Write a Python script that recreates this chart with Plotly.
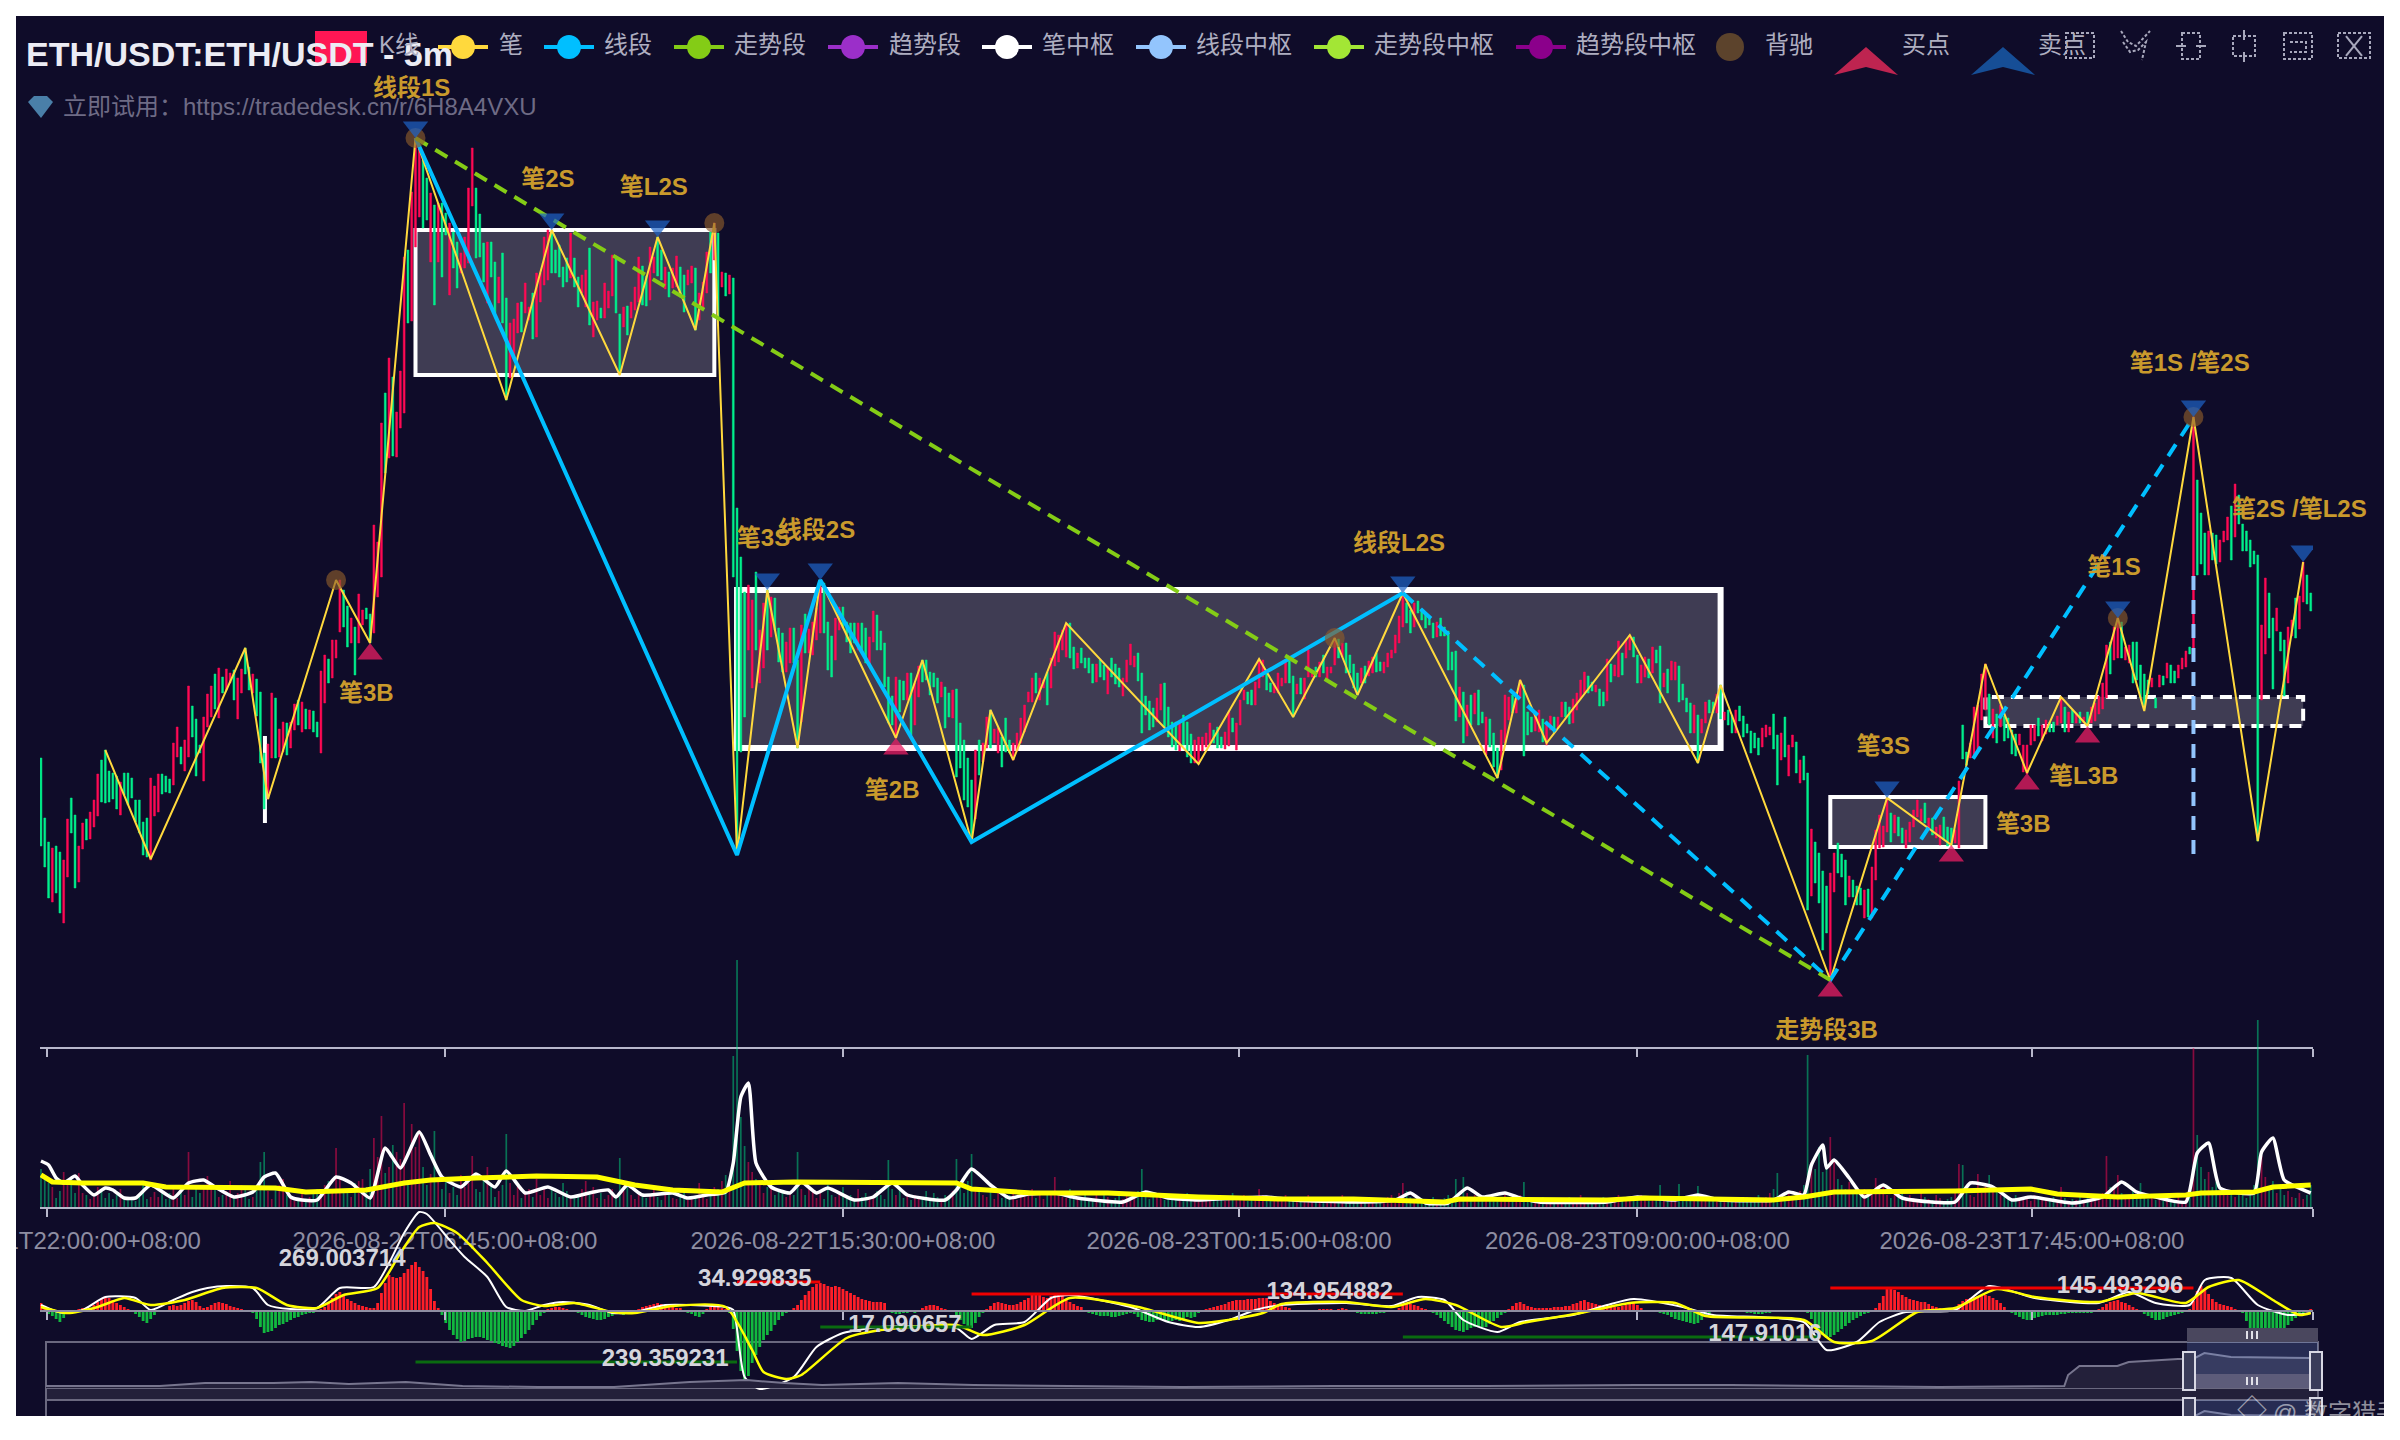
"""ETH/USDT 5m Chan-theory chart: candles, strokes, centers, volume and MACD panes."""
import plotly.graph_objects as go

# price and volume have no visible scale in the source, so values are relative units
open_close = [
    242,154, 182,133, 158,102, 98,152, 154,107, 148,87, 77,140, 123,181, 202,167, 185,112,
    118,154, 151,177, 181,160, 161,188, 173,200, 184,226, 240,198, 250,197, 229,198, 227,201,
    224,191, 185,218, 227,205, 227,195, 222,202, 200,178, 200,167, 178,145, 182,143, 140,222,
    184,214, 188,226, 226,206, 224,208, 221,207, 215,257, 243,273, 253,236, 229,260, 243,314,
    294,263, 281,224, 255,247, 219,283, 273,306, 283,314, 326,291, 282,332, 323,307, 310,331,
    317,327, 330,300, 281,322, 307,331, 352,326, 333,310, 307,326, 321,284, 308,237, 247,191,
    201,256, 242,307, 302,242, 243,271, 248,278, 277,245, 252,278, 270,296, 300,275, 268,298,
    291,271, 271,290, 289,268, 278,263, 247,329, 297,345, 341,317, 322,360, 342,360, 368,420,
    410,373, 394,353, 357,382, 373,325, 357,406, 375,390, 392,381, 386,357, 367,475, 403,458,
    423,577, 607,527, 542,642, 623,544, 543,588, 572,629, 587,743, 750,677, 679,808, 753,860,
    783,853, 840,772, 822,780, 738,807, 795,695, 738,797, 797,723, 787,765, 705,777, 768,732,
    758,712, 727,747, 732,763, 737,812, 794,852, 812,742, 786,743, 757,718, 697,758, 758,723,
    738,687, 697,723, 747,677, 702,600, 622,677, 643,681, 667,697, 698,668, 687,717, 680,693,
    707,661, 663,727, 698,727, 715,763, 720,770, 768,727, 750,727, 755,723, 733,713, 742,718,
    722,767, 742,713, 723,693, 707,725, 693,730, 752,675, 663,698, 680,699, 692,682, 682,717,
    692,709, 704,745, 741,687, 686,627, 673,693, 694,665, 682,698, 690,713, 698,743, 734,695,
    724,694, 700,753, 727,743, 763,724, 750,720, 711,733, 728,703, 712,732, 713,744, 733,703,
    725,688, 715,730, 717,734, 732,670, 680,707, 692,718, 707,748, 768,727, 740,777, 767,680,
    713,728, 727,704, 706,725, 722,423, 492,145, 443,248, 408,283, 350,415, 312,400, 428,350,
    317,370, 332,397, 410,350, 363,403, 402,370, 372,338, 367,328, 328,358, 337,372, 372,337,
    340,252, 278,375, 386,347, 347,371, 345,378, 360,392, 367,420, 417,367, 378,330, 364,323,
    340,382, 370,393, 393,372, 378,358, 377,347, 377,357, 350,377, 377,347, 372,337, 335,363,
    358,389, 385,350, 369,350, 357,313, 323,277, 304,275, 262,323, 320,288, 319,300, 300,327,
    327,265, 275,317, 303,334, 340,318, 340,320, 328,305, 327,313, 322,297, 303,318, 313,272,
    307,283, 282,310, 311,223, 277,232, 260,200, 242,193, 220,162, 181,250, 260,225, 238,257,
    252,283, 290,252, 257,271, 247,272, 263,233, 282,248, 260,247, 240,257, 249,267, 257,282,
    268,295, 298,308, 298,322, 327,307, 300,322, 312,320, 328,295, 312,342, 334,368, 338,365,
    350,370, 343,377, 377,342, 353,331, 332,347, 352,337, 342,332, 342,327, 336,317, 318,336,
    340,323, 335,320, 306,333, 342,323, 336,316, 332,313, 304,322, 318,340, 335,356, 333,344,
    347,319, 327,267,
    304,285, 299,270, 292,273, 278,302, 290,316, 317,273, 293,263, 278,253, 278,250, 249,277,
    285,255, 278,243, 266,237, 237,260, 236,263, 249,263, 253,267, 257,277, 270,257, 273,252,
    263,252, 251,268, 254,288, 282,268, 250,277, 275,300, 300,310, 308,296, 310,295, 295,318,
    312,341, 323,340, 330,310, 317,308, 307,317, 307,327, 314,322, 317,339, 339,317, 324,283,
    306,316, 322,306, 301,322, 323,350, 323,330, 333,323, 323,338, 345,327, 321,333, 327,333,
    335,362, 361,342, 343,357, 357,327, 345,327, 336,312, 327,305, 317,332, 334,317, 324,339,
    327,343, 347,328, 338,329, 327,338, 333,347, 342,350, 347,365, 357,384, 373,407, 397,377,
    390,367, 373,397, 399,387, 391,380, 385,372, 383,375, 377,362, 363,378, 382,364, 373,364,
    369,330, 348,330, 349,279, 283,313, 308,257, 264,295, 305,275, 286,307, 310,275, 288,277,
    245,283, 281,253, 267,233, 252,222, 230,270, 257,305, 280,303, 305,287, 287,308, 302,320,
    315,244, 288,265, 283,268, 269,285, 268,290, 281,258, 255,278, 270,284,
    283,267, 272,283, 283,298, 298,283, 293,276, 277,301, 290,307, 301,320, 307,328, 324,307,
    318,309, 308,315, 311,294, 308,294, 299,341, 336,318, 324,335, 323,359, 347,325, 342,360,
    350,365, 363,343, 345,317, 317,335, 323,343, 341,322, 327,353, 350,337, 354,297, 313,327,
    331,307, 320,339, 320,338, 334,298, 316,300, 302,288, 297,267, 267,295, 285,237, 267,281,
    277,298, 300,287, 298,287, 287,306, 315,281, 280,288, 290,275, 285,267, 267,290, 294,279,
    284,263, 276,267, 269,247, 267,252, 262,245, 253,272, 263,275, 265,273, 286,251, 265,215,
    240,267, 283,243, 224,255, 253,265, 258,227, 217,240, 244,220, 227,90, 104,171, 158,117,
    147,97, 129,50, 114,67, 20,127, 108,147, 157,127, 146,123, 140,95, 103,124, 120,103,
    114,95, 112,95, 82,110, 111,83, 82,133, 120,170, 152,185, 153,174, 168,202, 187,158,
    167,185, 183,164, 172,157, 152,170, 158,178, 173,190, 183,200, 179,191, 197,177, 172,182,
    182,165, 162,173, 155,175, 183,160, 173,154,
    172,155, 157,170, 152,219, 275,241, 248,235, 242,257, 242,293, 248,295, 280,326,
    290,336, 306,275, 262,291, 286,257, 273,295, 284,259, 282,262, 270,246, 266,244, 255,266,
    228,255, 226,255, 255,275, 259,275, 282,264, 259,275, 266,280, 278,268, 278,268, 275,284,
    277,303, 293,268, 268,288, 290,277, 277,287, 288,277, 277,283, 288,275, 277,293, 279,297,
    286,304, 291,317, 302,355, 358,326, 340,373, 342,382, 378,342, 340,353, 337,355, 358,317,
    358,320, 335,302, 326,293, 320,306, 313,322, 302,292, 313,325, 324,315, 322,337, 335,317,
    329,317, 322,335, 331,342, 333,349, 353,346, 351,583, 520,425, 487,436, 467,425, 425,469,
    467,440, 465,436, 438,460, 458,469, 460,483, 494,440, 463,516, 505,476, 476,449, 469,449,
    460,433, 449,436, 445,159, 300,375, 346,422, 407,362, 382,311, 369,392, 368,349, 360,304,
    317,373, 364,380, 402,362, 371,404, 398,438, 425,396, 407,389,
]
opens = open_close[::2]
closes = open_close[1::2]
bar_index = list(range(len(opens)))

tick_index = [1.6, 106.8, 212, 316.7, 422, 526.3, 600.6]
# the first label runs off the left edge of the chart, so it is placed as a note further down
first_tick_text = "2026-08-21T22:00:00+08:00"
tick_text = ["", "2026-08-22T06:45:00+08:00", "2026-08-22T15:30:00+08:00",
             "2026-08-23T00:15:00+08:00", "2026-08-23T09:00:00+08:00", "2026-08-23T17:45:00+08:00", ""]

bi_x = [17, 29, 54, 60, 78, 87, 99, 123, 135, 153, 163, 173, 178, 184, 192, 200, 206, 226, 233, 246, 251, 257,
        271, 306, 322, 331, 342, 348, 360, 385, 391, 398, 420, 438, 444, 473, 488, 505, 514, 525, 534, 541,
        549, 556, 569, 586, 598]
bi_y = [250, 141, 352, 201, 420, 357, 862, 600, 770, 625, 763, 670, 777, 145, 410, 252, 420, 262, 340, 158, 290, 240,
        377, 236, 341, 283, 362, 305, 407, 222, 320, 257, 365, 237, 315, 20, 202, 155, 336, 227, 303, 274,
        382, 289, 583, 159, 438]
seg_x = [99, 184, 206, 246, 360]
seg_y = [862, 145, 420, 158, 407]
seg_pending_x = [360, 473, 569]
seg_pending_y = [407, 20, 583]
trend_x = [99, 473]
trend_y = [862, 20]

# x0, x1, low, high
bi_centers = [(99, 178, 625, 770), (184, 444, 252, 410), (473, 514, 153, 203), (514, 598, 274, 303)]
thin_center = (59.2, 177, 264)
seg_center = (569, 146, 425)

buy_x = [87, 226, 473, 505, 525, 541]
buy_y = [357, 262, 20, 155, 227, 274]
sell_x = [99, 135, 163, 192, 206, 360, 488, 549, 569, 598]
sell_y = [862, 770, 763, 410, 420, 407, 202, 382, 583, 438]
div_x = [78, 99, 178, 342, 549, 569]
div_y = [420, 862, 777, 362, 382, 583]

label_text = ["线段1S", "笔2S", "笔L2S", "笔3B", "笔3S", "线段2S", "笔2B", "线段L2S", "走势段3B", "笔3S", "笔L3B", "笔3B",
              "笔1S", "笔1S /笔2S", "笔2S /笔L2S"]
label_x = [98, 134, 162, 86, 191, 205, 225, 359, 472, 487, 540, 524, 548, 568, 597]
label_y = [910, 819, 811, 305, 460, 468, 208, 455, -32, 252, 222, 174, 431, 635, 489]

volume = [
    38,28,24,20,9,16,35,25,30,14,34,14,12,8,10,20,16,9,14,8,
    12,18,9,7,10,6,12,22,8,10,15,10,18,8,14,20,9,16,12,55,
    10,20,14,22,31,24,17,10,12,16,26,9,14,22,20,8,10,18,45,55,
    16,8,20,22,28,12,10,6,9,14,7,10,16,18,12,22,26,14,59,30,
    15,18,10,24,26,28,20,38,69,50,91,34,40,62,55,48,104,26,83,60,
    77,40,22,33,76,25,18,26,14,20,12,32,20,24,51,18,15,26,40,24,
    10,16,22,73,24,12,20,9,14,18,10,28,12,18,9,20,14,10,24,16,
    8,12,10,18,26,12,20,9,14,8,12,18,9,49,16,22,12,8,14,10,
    9,12,18,10,7,14,20,9,8,12,16,7,10,9,24,12,8,14,20,18,
    26,32,22,151,247,90,61,45,35,28,22,14,20,25,12,18,16,10,14,12,
    55,18,12,20,16,9,14,8,22,12,10,16,20,9,12,7,18,10,14,8,
    10,16,12,8,47,18,12,20,9,14,7,12,10,8,16,9,14,10,8,12,
    9,16,48,20,14,26,53,18,20,12,10,16,8,14,9,10,12,16,7,14,
    10,12,18,9,14,8,12,16,30,14,10,9,18,12,8,10,14,9,7,12,
    8,12,10,7,9,14,8,12,6,10,16,38,12,8,14,10,9,7,12,8,
    10,6,9,14,7,8,12,6,10,7,9,12,8,6,10,14,7,9,12,6,
    8,10,18,12,9,6,8,10,7,12,6,8,9,7,10,12,6,8,7,9,
    6,10,8,7,12,6,9,7,8,6,10,7,9,6,8,7,10,12,8,14,
    24,16,10,8,7,9,6,8,10,6,7,9,12,8,28,10,30,14,8,12,
    10,7,12,9,8,6,10,14,8,9,7,12,25,8,6,9,7,10,6,8,
    7,9,6,8,10,6,7,12,8,6,9,7,8,10,6,9,7,12,8,6,
    10,7,9,12,8,6,10,7,22,9,8,6,10,23,8,9,7,12,21,8,
    7,10,6,9,8,7,6,9,8,7,6,10,8,9,12,7,10,14,18,34,
    12,9,14,10,12,16,22,152,45,38,60,35,40,70,48,28,22,18,25,16,
    14,12,18,10,16,29,14,20,12,9,14,10,18,8,12,9,7,14,10,8,
    7,12,9,6,8,10,18,43,42,16,12,10,33,14,22,32,20,16,12,10,
    9,8,12,7,10,8,6,12,9,7,8,6,10,7,20,9,6,8,7,10,
    6,9,12,7,8,14,51,20,18,32,14,12,10,16,9,24,12,8,10,7,
    9,6,12,8,7,10,6,9,14,159,72,40,28,35,20,25,16,18,12,14,
    10,16,12,9,14,22,187,51,30,18,26,14,23,12,16,10,9,14,8,12,
    22,
]
vol_fast_x = [0, 2, 4, 6, 9, 11, 14, 17, 19, 22, 25, 29, 35, 39, 43, 46, 51, 56, 59, 62, 66, 69, 73, 78, 82, 87, 91, 95,
              100, 103, 106, 111, 115, 120, 123, 128, 134, 140, 146, 150, 152, 155, 159, 167, 171, 176, 181, 183, 185,
              187, 189, 193, 198, 201, 205, 208, 215, 220, 225, 229, 239, 242, 246, 251, 256, 261, 268, 274, 286, 292,
              298, 306, 317, 324, 331, 347, 358, 362, 366, 372, 377, 381, 387, 391, 396, 414, 422, 432, 438, 444, 458,
              462, 466, 468, 471, 472, 474, 478, 482, 487, 492, 506, 510, 516, 521, 526, 537, 545, 550, 554, 559, 567,
              570, 573, 576, 585, 587, 590, 593, 600]
vol_fast_y = [46, 42, 29, 24, 31, 22, 12, 19, 17, 9, 9, 22, 9, 24, 27, 20, 10, 15, 30, 34, 10, 7, 7, 30, 24, 9, 59, 39,
              75, 52, 30, 20, 33, 20, 36, 14, 20, 10, 15, 17, 10, 22, 12, 14, 9, 12, 15, 44, 110,
              124, 44, 20, 14, 25, 14, 19, 7, 10, 24, 12, 7, 17, 38, 22, 9, 13, 14, 9, 5, 15,
              9, 7, 9, 10, 7, 5, 7, 14, 4, 4, 19, 10, 14, 9, 5, 5, 10, 7, 12, 7, 7,
              15, 12, 42, 62, 39, 47, 29, 10, 22, 9, 5, 24, 20, 7, 10, 4, 10, 25, 15, 10, 5,
              54, 64, 19, 14, 55, 69, 27, 14]
vol_slow_x = [0, 3, 11, 27, 33, 50, 62, 70, 86, 96, 103, 115, 131, 147, 157, 167, 180, 186, 199, 242, 246, 262, 282,
              306, 327, 347, 359, 371, 375, 395, 414, 424, 458, 466, 474, 506, 526, 533, 549, 567, 571, 585, 590, 600]
vol_slow_y = [32, 25, 24, 24, 20, 20, 19, 15, 17, 24, 27, 29, 31, 30, 22, 17, 15, 24, 25, 24, 18, 14, 14,
              10, 8, 8, 7, 5, 8, 8, 7, 9, 7, 10, 15, 16, 18, 13, 10, 12, 14, 15, 20, 22]

macd_hist = [
    8,5,-3,-5,-8,-11,-7,-3,-1,1, 2,3,2,3,6,9,12,14,13,11, 8,6,4,2, -1,-3,-6,-10,-12,-8, -4,-1,1,1,
    5,6,5,6,8,10,11,9,5,3,4,6,8,9,8,7,5,4,3,2,1,1,
    -2,-8,-16,-22,-21,-20,-17,-14,-13,-11,-9,-7,-6,-4,-3,-2,-2,
    1,2,4,8,13,17,19,16,12,10,8,6,5,4,3,3,
    8,18,28,36,34,33,34,38,42,46,49,44,40,34,22,10,3,
    -4,-12,-19,-24,-28,-31,-30,-28,-27,-26,-26,-27,-29,-30,-32,-33,-35,-36,-37,-35,-31,-27,-23,-19,-14,-9,-5,-2,
    2,3,4,4,3,2,1,
    -1,-2,-4,-6,-7,-8,-9,-9,-8,-6,-5,-3,-3,-4,-3,-1,
    1,2,4,5,6,7,8,7,6,5,4,3,3,
    -1,-2,-3,-5,-6,-3, 2,4,6,5,3,2,
    -2,-18,-40,-60,-71,-65,-52,-44,-36,-29,-24,-20,-14,-9,-5,-2,
    1,3,6,11,16,20,24,27,28,27,25,24,25,24,22,20,18,16,14,12,11,10,9,9,9,8,
    -1,-2,-3,-3,-2,-2,-1,-2, 1,3,5,6,6,5,3,2,1,
    -1,-5,-9,-13,-15,-17,-12,-6,-2,
    2,5,8,9,8,7,6,6,7,9,11,13,16,17,17,14,13,15,16,17,15,12,9,7,5,4,
    -1,-2,-3,-4,-5,-5,-5,-6,-6,-5,-4,-3,-2,-3,-6,-9,-10,-11,-11,-9,-8,-9,-10,-10,-9,-10,-8,-6,-7,-6,
    -2,1,2,3,4,5,6,7,9,10,11,11,11,12,12,12,13,13,13,10,8,6,5,4,3,1,
    0,0,0,0,0, 1,2,2,2,2,1,2,3,2,1,
    -1,-2,-3,-3,-3,-3,-3,-2,-2,-1,-1,-1,
    3,6,8,7,6,5,3,2,1,
    -2,-4,-7,-10,-13,-16,-19,-20,-21,-19,-17,-16,-15,-16,-16,-13,-10,-7,-4,-2,
    2,5,8,9,7,5,4,3,3,3,3,3,4,4,4,5,5,7,8,10,11,9,8,7,6,5,5,5,4,4,5,6,7,8,6,3,1,
    0,0, -1,-2,-3,-4,-6,-8,-9,-10,-11,-12,-13,-12,-9,-6,-3,-1,
    1,-1,1,-1,1,0, -1,-1,-2,-2,-3,-3,-3,-2,-2,-1,-1,-1, 0,0,1,1,0,0,
    -2,-8,-14,-20,-24,-27,-26,-24,-21,-18,-15,-12,-9,-7,-5,-3,-2,-1,
    3,8,15,23,23,21,19,16,14,12,11,10,9,9,7,5,4,3,2,1,1,
    3,7,10,12,13,14,15,16,16,15,13,11,8,4,1,
    -2,-4,-6,-8,-9,-9,-7,-6,-5,-4,-4,-4,-4,-3,-3,-2,-2,-2,-2,-2,-2,-2,
    1,2,4,7,9,10,11,9,8,6,4,2,
    -1,-3,-5,-7,-9,-9,-8,-6,-5,-4,-3,-2,-1,
    2,10,20,25,22,17,12,9,7,6,5,4,2,1,
    -2,-10,-18,-24,-27,-29,-26,-25,-24,-23,-22,-18,-14,-10,-7,-4,-2,
    1,2,
]
dif_x = [0, 3, 6, 11, 17, 25, 29, 35, 40, 44, 49, 56, 60, 66, 73, 79, 88, 92, 96, 100, 102, 108, 112, 118, 123, 128,
         133, 138, 145, 151, 157, 165, 181, 183, 186, 190, 199, 205, 212, 222, 242, 246, 252, 260, 267, 272, 288, 298,
         306, 314, 321, 328, 345, 357, 364, 371, 376, 385, 391, 405, 414, 421, 434, 442, 466, 472, 480, 486, 493, 506,
         515, 527, 544, 552, 559, 568, 572, 579, 586, 594, 600]
dif_y = [6, 1, -2, 1, 14, 13, 1, 11, 19, 23, 25, 23, 6, 2, 3, 23, 24, 48, 78, 99, 97, 71, 54, 34, 4, 0,
         6, 9, 6, -2, -1, 6, 4, 1, -66, -78, -66, -36, -22, -16, -17, -28, -14, -11, 13, 16, 4, -11,
         -16, -9, 1, 6, 8, 5, 14, 11, -9, -21, -11, -4, 6, 12, 4, -4, -11, -39, -31, -11, -1, 1,
         25, 13, 8, 19, 8, 6, 31, 33, 6, -4, -2]
dea_x = [0, 7, 15, 22, 29, 38, 48, 57, 65, 73, 80, 89, 95, 100, 104, 110, 118, 127, 133, 141, 151, 157, 167, 181, 188,
         191, 197, 201, 213, 222, 242, 249, 260, 272, 290, 306, 314, 323, 328, 345, 357, 366, 374, 386, 393, 407, 420,
         432, 440, 466, 474, 484, 496, 506, 517, 527, 544, 554, 567, 573, 581, 590, 597, 600]
dea_y = [4, -2, 4, 13, 6, 11, 23, 23, 6, 3, 16, 23, 58, 84, 88, 78, 48, 11, 5, 8, -1, -2, 5, 4, -39,
         -61, -68, -64, -27, -19, -14, -24, -14, 13, 4, -12, -9, -2, 7, 9, 4, 12, 6, -16, -11, -2, 8,
         8, -5, -9, -31, -30, -1, 3, 22, 14, 9, 18, 8, 24, 31, 11, -4, -2]
area_x0 = [99, 184, 206, 246, 360, 473]
area_x1 = [184, 206, 246, 360, 470, 569]
area_level = [-51, 29, -16, 17, -26, 23]
area_text = ["269.003714", "34.929835", "17.090657", "239.359231", "134.954882", "147.91016", "145.493296"]
area_text_x = [79.6, 188.7, 228.4, 165, 340.7, 455.7, 549.6]
area_text_y = [51, 31, -15, -49, 18, -24, 24]

overview_x = [0, 30, 42, 60, 70, 80, 95, 110, 130, 150, 170, 185, 195, 205, 225, 245, 270, 300, 340, 380, 420, 445, 470,
              500, 533, 534, 537, 547, 550, 563, 567, 570, 577, 598, 600]
overview_y = [2, 2, 5, 5, 6, 4, 6, 2, 1, 1, 6, 8, 5, 3, 5, 3, 2, 1, 2, 2, 3, 3, 2,
              1, 2, 13, 22, 22, 26, 29, 29, 35, 31, 30, 28]

legend_lines = [("笔", 463, 497, "#FFD93D"), ("线段", 569, 602, "#00BFFF"), ("走势段", 699, 732, "#84CC16"),
                ("趋势段", 853, 887, "#9B2FC9"), ("笔中枢", 1007, 1040, "#FFFFFF"), ("线段中枢", 1161, 1194, "#93C5FD"),
                ("走势段中枢", 1339, 1372, "#A3E635"), ("趋势段中枢", 1541, 1574, "#8B008B")]

BG = "#0F0C29"
UP = "#FF0A54"
DOWN = "#00F08C"
FONT = "Liberation Sans, Noto Sans CJK SC, sans-serif"
GOLD = "#C99A2C"
AXIS = "#B8B8CC"
W, H = 2368, 1400


def fx(x):
    return (x - 16) / W


def fy(y):
    return 1 - (y - 16) / H


def paper_rect(x0, y0, x1, y1, kind="rect", **kw):
    return dict(type=kind, xref="paper", yref="paper", x0=fx(x0), x1=fx(x1), y0=fy(y0), y1=fy(y1), **kw)


def paper_path(points, **kw):
    d = "M" + " L".join(f"{fx(x):.5f},{fy(y):.5f}" for x, y in points)
    return dict(type="path", xref="paper", yref="paper", path=d, **kw)


def note(text, x, y, size=24, color="#AEAEC0", bold=False, anchor="left"):
    return dict(text=text, xref="paper", yref="paper", x=fx(x), y=fy(y), showarrow=False, xanchor=anchor,
                yanchor="middle", font=dict(family=FONT, size=size, color=color,
                                            weight="bold" if bold else "normal"))


fig = go.Figure()
fig.add_trace(go.Candlestick(
    x=bar_index, open=opens, close=closes,
    high=[max(o, c) for o, c in zip(opens, closes)], low=[min(o, c) for o, c in zip(opens, closes)],
    increasing=dict(line=dict(color=UP, width=0.5), fillcolor=UP),
    decreasing=dict(line=dict(color=DOWN, width=0.5), fillcolor=DOWN),
    whiskerwidth=0, showlegend=False,
))
fig.add_trace(go.Scatter(x=bi_x, y=bi_y, mode="lines", line=dict(color="#FFD93D", width=2)))
fig.add_trace(go.Scatter(x=seg_x, y=seg_y, mode="lines", line=dict(color="#00BFFF", width=4)))
fig.add_trace(go.Scatter(x=seg_pending_x, y=seg_pending_y, mode="lines",
                         line=dict(color="#00BFFF", width=4, dash="14px,10px")))
fig.add_trace(go.Scatter(x=trend_x, y=trend_y, mode="lines", line=dict(color="#84CC16", width=4, dash="14px,9px")))
fig.add_trace(go.Scatter(x=div_x, y=div_y, mode="markers",
                         marker=dict(color="rgba(139,90,43,0.65)", size=20, line=dict(width=0))))
# standoff keeps the triangle's tip on the turning point
fig.add_trace(go.Scatter(x=buy_x, y=buy_y, mode="markers",
                         marker=dict(symbol="triangle-up", color="rgba(233,30,99,0.75)", size=22, standoff=11,
                                     line=dict(width=0))))
fig.add_trace(go.Scatter(x=sell_x, y=sell_y, mode="markers",
                         marker=dict(symbol="triangle-up", angle=180, color="rgba(30,100,200,0.7)", size=22, standoff=11,
                                     line=dict(width=0))))
fig.add_trace(go.Scatter(x=label_x, y=label_y, text=label_text, mode="text", textposition="middle center",
                         cliponaxis=False, textfont=dict(family=FONT, size=24, color=GOLD, weight="bold")))

# volume pane
vol_colors = ["rgba(255,10,84,0.5)" if c >= o else "rgba(0,240,140,0.45)" for o, c in zip(opens, closes)]
fig.add_trace(go.Bar(x=bar_index, y=volume, marker=dict(color=vol_colors, line=dict(width=0)), width=0.45,
                     xaxis="x2", yaxis="y2"))
fig.add_trace(go.Scatter(x=vol_fast_x, y=vol_fast_y, mode="lines",
                         line=dict(color="#FFFFFF", width=3.5, shape="spline", smoothing=0.5), xaxis="x2", yaxis="y2"))
fig.add_trace(go.Scatter(x=vol_slow_x, y=vol_slow_y, mode="lines", line=dict(color="#FFFF00", width=5),
                         xaxis="x2", yaxis="y2"))

# MACD pane
hist_colors = ["#FF1E28" if v >= 0 else "#12B83F" for v in macd_hist]
fig.add_trace(go.Bar(x=list(range(len(macd_hist))), y=macd_hist, marker=dict(color=hist_colors, line=dict(width=0)),
                     width=0.75, xaxis="x3", yaxis="y3"))
fig.add_trace(go.Scatter(x=dif_x, y=dif_y, mode="lines", line=dict(color="#FFFFFF", width=2, shape="spline", smoothing=0.6),
                         xaxis="x3", yaxis="y3"))
fig.add_trace(go.Scatter(x=dea_x, y=dea_y, mode="lines", line=dict(color="#FFFF00", width=2.5, shape="spline", smoothing=0.6),
                         xaxis="x3", yaxis="y3"))
for x0, x1, level in zip(area_x0, area_x1, area_level):
    fig.add_trace(go.Scatter(x=[x0, x1], y=[level, level], mode="lines",
                             line=dict(color="#F00000" if level > 0 else "#0A6B10", width=3), xaxis="x3", yaxis="y3"))
fig.add_trace(go.Scatter(x=area_text_x, y=area_text_y, text=area_text, mode="text", textposition="middle center",
                         textfont=dict(family=FONT, size=24, color="#D5D5DC", weight="bold"),
                         xaxis="x3", yaxis="y3"))

# overview strips of the range slider
for yaxis in ("y4", "y5"):
    fig.add_trace(go.Scatter(x=overview_x, y=overview_y, mode="lines", fill="tozeroy", fillcolor="#23203A",
                             line=dict(color="#77758E", width=2), xaxis="x4", yaxis=yaxis))

shapes = [paper_rect(16, 16, 2384, 1416, fillcolor=BG, line=dict(width=0), layer="below")]

for (x0, x1, low, high), width, dash in zip(bi_centers, (4, 6, 4, 4), ("solid", "solid", "solid", "12px,7px")):
    shapes.append(dict(type="rect", xref="x", yref="y", x0=x0, x1=x1, y0=low, y1=high, layer="below",
                       fillcolor="rgba(255,255,255,0.2)", line=dict(color="#FFFFFF", width=width, dash=dash)))
shapes.append(dict(type="line", xref="x", yref="y", x0=thin_center[0], x1=thin_center[0], y0=thin_center[1],
                   y1=thin_center[2], layer="below", line=dict(color="#FFFFFF", width=4)))
shapes.append(dict(type="line", xref="x", yref="y", x0=seg_center[0], x1=seg_center[0], y0=seg_center[1],
                   y1=seg_center[2], line=dict(color="#93C5FD", width=4, dash="14px,10px")))

# legend row
annotations = [note("ETH/USDT:ETH/USDT - 5m", 24, 54, size=34, color="#ECECF4", bold=True),
               note("立即试用：https://tradedesk.cn/r/6H8A4VXU", 61, 107, color="#6E6B85"),
               note(first_tick_text, 48.5, 1240, color="#8E8EA2", anchor="center")]
shapes.append(paper_rect(315, 31, 367, 63, fillcolor="#FF1654", line=dict(width=0)))
annotations.append(note("K线", 377, 45))
for name, cx, tx, color in legend_lines:
    shapes.append(dict(type="line", xref="paper", yref="paper", x0=fx(cx - 25), x1=fx(cx + 25), y0=fy(47), y1=fy(47),
                       line=dict(color=color, width=4)))
    shapes.append(paper_rect(cx - 12, 35, cx + 12, 59, kind="circle", fillcolor=color, line=dict(width=0)))
    annotations.append(note(name, tx, 45))
shapes.append(paper_rect(1716, 33, 1744, 61, kind="circle", fillcolor="#5C432C", line=dict(width=0)))
annotations.append(note("背驰", 1763, 45))
for cx, color, text, tx in ((1866, "#BE2450", "买点", 1900), (2003, "#164E96", "卖点", 2036)):
    shapes.append(paper_path([(cx, 47), (cx + 32, 75), (cx, 67), (cx - 32, 75)], fillcolor=color, line=dict(width=0)))
    annotations.append(note(text, tx, 45))

# toolbox icons
icon = dict(color="#A8A8BC", width=2, dash="3px,2px")
solid = dict(color="#A8A8BC", width=2)
shapes += [
    paper_rect(2066, 33, 2094, 58, line=icon),
    paper_path([(2121, 31), (2128, 42), (2136, 46), (2150, 31)], line=icon),
    paper_path([(2123, 42), (2130, 52), (2138, 50), (2146, 42), (2142, 60)], line=icon),
    paper_rect(2182, 33, 2200, 59, line=icon),
    paper_path([(2176, 46), (2186, 46)], line=solid),
    paper_path([(2196, 46), (2206, 46)], line=solid),
    paper_rect(2233, 36, 2255, 56, line=icon),
    paper_path([(2244, 30), (2244, 40)], line=solid),
    paper_path([(2244, 52), (2244, 62)], line=solid),
    paper_rect(2284, 33, 2312, 59, line=icon),
    paper_path([(2290, 42), (2306, 42), (2306, 52), (2290, 52)], line=icon),
    paper_rect(2338, 33, 2370, 58, line=icon),
    paper_path([(2346, 36), (2362, 56)], line=solid),
    paper_path([(2362, 36), (2346, 56)], line=solid),
]

# gem in front of the trial link
shapes.append(paper_path([(28, 102), (34, 96), (47, 96), (53, 102), (41, 118)], fillcolor="#4A7FA8", line=dict(width=0)))

# slider chrome
frame = dict(color="#6A687F", width=2)
shapes += [
    paper_rect(46, 1342, 2318, 1388, line=frame, layer="below"),
    paper_rect(46, 1388, 2318, 1400, fillcolor="#23203A", line=frame, layer="below"),
    paper_rect(46, 1400, 2318, 1430, line=frame, layer="below"),
    paper_rect(2187, 1342, 2318, 1388, fillcolor="rgba(135,175,255,0.2)", line=dict(width=0)),
    paper_rect(2187, 1400, 2318, 1416, fillcolor="rgba(135,175,255,0.2)", line=dict(width=0)),
    paper_rect(2187, 1328, 2318, 1342, fillcolor="#4A475E", line=dict(width=0)),
    paper_rect(2187, 1374, 2318, 1388, fillcolor="#5D5C7A", line=dict(width=0)),
]
for x0 in (2183, 2310):
    shapes.append(paper_rect(x0, 1352, x0 + 12, 1390, fillcolor="#3A3C5A", line=dict(color="#D8D8E4", width=2)))
    shapes.append(paper_rect(x0, 1398, x0 + 12, 1430, fillcolor="#3A3C5A", line=dict(color="#D8D8E4", width=2)))
for grip_y in (1331, 1377):
    for grip_x in (2246, 2251, 2256):
        shapes.append(paper_rect(grip_x, grip_y, grip_x + 2, grip_y + 8, fillcolor="#E0E0E8", line=dict(width=0)))

# watermark
annotations.append(note("◇", 2252, 1410, size=30, color="rgba(255,255,255,0.55)", anchor="center"))
annotations.append(note("@ 数字猎手", 2271, 1412, size=24, color="rgba(255,255,255,0.55)"))

axis_common = dict(range=[-0.26, 600.6], showgrid=False, zeroline=False, tickmode="array", tickvals=tick_index,
                   ticks="outside", ticklen=8, tickwidth=2, tickcolor=AXIS, showline=True, linecolor=AXIS, linewidth=2,
                   domain=[fx(40), fx(2313)])
hidden_y = dict(visible=False, showgrid=False, zeroline=False, fixedrange=True)

fig.update_layout(
    width=W, height=H,
    margin=dict(l=0, r=0, t=0, b=0),
    paper_bgcolor="#FFFFFF",
    plot_bgcolor="rgba(0,0,0,0)",
    showlegend=False,
    barmode="overlay",
    hovermode=False,
    shapes=shapes,
    annotations=annotations,
    xaxis=dict(axis_common, anchor="y", showticklabels=False, rangeslider=dict(visible=False)),
    yaxis=dict(hidden_y, domain=[fy(1047), fy(16)], range=[-47, 984]),
    xaxis2=dict(axis_common, anchor="y2", ticktext=tick_text, ticklabelstandoff=3,
                tickfont=dict(family=FONT, size=24, color="#8E8EA2")),
    yaxis2=dict(hidden_y, domain=[fy(1207), fy(900)], range=[0, 307]),
    xaxis3=dict(axis_common, anchor="free", position=fy(1311), showticklabels=False, linecolor="#8E8EA2"),
    yaxis3=dict(hidden_y, domain=[fy(1400), fy(1200)], range=[-89, 111]),
    xaxis4=dict(visible=False, anchor="y4", domain=[fx(46), fx(2318)], range=[0, 600]),
    yaxis4=dict(hidden_y, domain=[fy(1388), fy(1342)], range=[0, 46]),
    yaxis5=dict(hidden_y, domain=[fy(1416), fy(1400)], range=[30, 46]),
)

fig.write_html("out.html", post_script="document.body.style.margin='16px';", config=dict(displayModeBar=False))
